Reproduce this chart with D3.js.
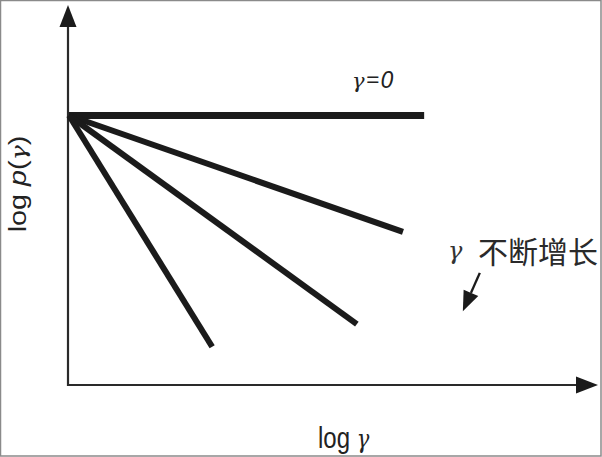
<!DOCTYPE html>
<html>
<head>
<meta charset="utf-8">
<script src="https://cdn.jsdelivr.net/npm/d3@7"></script>
<style>
  body { margin: 0; background: #fff; }
  svg { display: block; }
</style>
</head>
<body>
<svg id="chart" width="602" height="457"></svg>
<script>
// fan of lines, all starting at the origin (log γ = 0, log p = 0)
const fanNames = ["γ=0", "γ1", "γ2", "γ3"];
const fanEndX = [6.72, 6.32, 5.45, 2.72];
const fanEndY = [0, -2.16, -3.87, -4.29];

// annotation arrow "γ 不断增长" (tail, head) in data units
const noteArrowX = [7.77, 7.45];
const noteArrowY = [-2.92, -3.63];

const width = 602;
const height = 457;

const svg = d3.select("#chart");

const x = d3.scaleLinear().domain([0, 10]).range([68, 598]);
const y = d3.scaleLinear().domain([-5, 2.05]).range([385, 5]);

const ink = "#1b1b1b";

// grey frame round the picture
svg
  .append("rect")
  .attr("x", 0.5)
  .attr("y", 0.5)
  .attr("width", width - 1.5)
  .attr("height", height - 1.5)
  .attr("fill", "#fff")
  .attr("stroke", "#8a8a8a")
  .attr("stroke-width", 1.5);

// axes with arrow heads
const x0 = x(0);
const y0 = y(-5);
const xEnd = x(10);
const yEnd = y(2.05);
const head = 22;
const half = 8.5;

svg
  .append("path")
  .attr("d", `M${x0},${yEnd + head} L${x0},${y0} L${xEnd - head},${y0}`)
  .attr("fill", "none")
  .attr("stroke", "#2a2a2a")
  .attr("stroke-width", 2.2);

svg
  .append("path")
  .attr(
    "d",
    `M${x0},${yEnd} L${x0 - half},${yEnd + head} L${x0 + half},${yEnd + head} Z`
  )
  .attr("fill", ink);

svg
  .append("path")
  .attr(
    "d",
    `M${xEnd},${y0} L${xEnd - head},${y0 - half} L${xEnd - head},${y0 + half} Z`
  )
  .attr("fill", ink);

// fan lines
const fan = fanNames.map((name, i) => ({
  name: name,
  x2: fanEndX[i],
  y2: fanEndY[i],
}));

svg
  .selectAll(".fan")
  .data(fan)
  .enter()
  .append("line")
  .attr("class", "fan")
  .attr("x1", x(0) + 1)
  .attr("y1", y(0))
  .attr("x2", (d) => x(d.x2))
  .attr("y2", (d) => y(d.y2))
  .attr("stroke", ink)
  .attr("stroke-width", (d, i) => (i === 0 ? 7 : 6));

// label of the flat line
const g0 = svg
  .append("text")
  .attr("x", 352)
  .attr("y", 88)
  .attr("font-size", 24)
  .attr("letter-spacing", 1)
  .attr("fill", "#222");
g0.append("tspan")
  .attr("font-family", "'DejaVu Serif', serif")
  .attr("font-style", "italic")
  .attr("font-size", 21)
  .text("γ");
g0.append("tspan")
  .attr("font-family", "'Open Sans', 'Liberation Sans', sans-serif")
  .attr("font-style", "italic")
  .text("=0");

// x axis title
const xt = svg
  .append("text")
  .attr("transform", "translate(318,448) scale(1,1.2)")
  .attr("font-size", 24)
  .attr("font-family", "'Liberation Sans', Arial, sans-serif")
  .attr("fill", "#222");
xt.append("tspan").text("log ");
xt.append("tspan")
  .attr("font-family", "'DejaVu Serif', serif")
  .attr("font-style", "italic")
  .attr("font-size", 21)
  .text("γ");

// y axis title
const yt = svg
  .append("text")
  .attr("transform", "translate(26,184) scale(1,1.2) rotate(-90)")
  .attr("text-anchor", "middle")
  .attr("font-size", 24)
  .attr("font-family", "'Liberation Sans', Arial, sans-serif")
  .attr("fill", "#222");
yt.append("tspan").text("log ");
yt.append("tspan").attr("font-style", "italic").text("p");
yt.append("tspan").text("(");
yt.append("tspan")
  .attr("font-family", "'DejaVu Serif', serif")
  .attr("font-style", "italic")
  .attr("font-size", 21)
  .text("γ");
yt.append("tspan").text(")");

// note: γ keeps growing
svg
  .append("text")
  .attr("x", 448)
  .attr("y", 259)
  .attr("font-size", 24)
  .attr("font-family", "'DejaVu Serif', serif")
  .attr("font-style", "italic")
  .attr("fill", "#333")
  .text("γ");

svg
  .append("text")
  .attr("x", 478)
  .attr("y", 263)
  .attr("font-size", 30)
  .attr("font-family", "'Noto Sans CJK SC', sans-serif")
  .attr("fill", "#2a2a2a")
  .text("不断增长");

// note arrow
const ax1 = x(noteArrowX[0]);
const ay1 = y(noteArrowY[0]);
const ax2 = x(noteArrowX[1]);
const ay2 = y(noteArrowY[1]);
const ang = Math.atan2(ay2 - ay1, ax2 - ax1);
const hl = 20;
const hw = 8;
const bx = ax2 - hl * Math.cos(ang);
const by = ay2 - hl * Math.sin(ang);

svg
  .append("line")
  .attr("x1", ax1)
  .attr("y1", ay1)
  .attr("x2", bx)
  .attr("y2", by)
  .attr("stroke", ink)
  .attr("stroke-width", 2.4);

svg
  .append("path")
  .attr(
    "d",
    `M${ax2},${ay2} L${bx + hw * Math.sin(ang)},${by - hw * Math.cos(ang)} L${
      bx - hw * Math.sin(ang)
    },${by + hw * Math.cos(ang)} Z`
  )
  .attr("fill", ink);
</script>
</body>
</html>
